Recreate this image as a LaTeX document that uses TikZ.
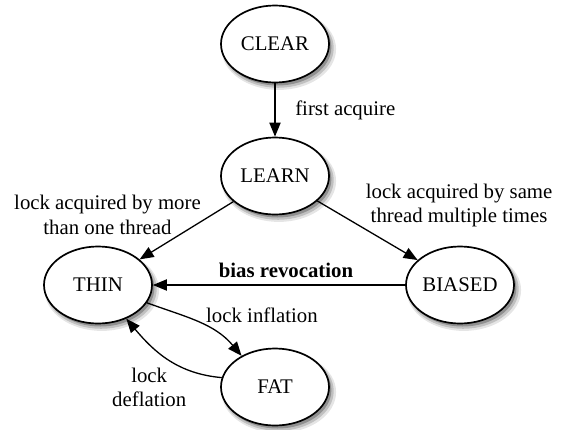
\documentclass[tikz,border=0pt]{standalone}
\usepackage{fontspec}
\setmainfont{Liberation Serif}
\usetikzlibrary{arrows.meta,shapes,shadows}

\begin{document}
\begin{tikzpicture}[x=1pt, y=1pt, font=\fontsize{10.4}{12.3}\selectfont]
\tikzstyle{state}=[ellipse, draw=black, line width=0.85pt, fill=white, node distance=66pt, minimum width=54pt, minimum height=38.5pt, inner sep=0pt,
  drop shadow={shadow xshift=1.8pt, shadow yshift=-2.4pt, shadow scale=1.06, opacity=0.1, fill=black},
  drop shadow={shadow xshift=1.5pt, shadow yshift=-2pt, shadow scale=1.03, opacity=0.16, fill=black},
  drop shadow={shadow xshift=1.2pt, shadow yshift=-1.5pt, opacity=0.25, fill=black}]
\tikzstyle{connect}=[-{Triangle[length=7pt, width=5.6pt]}, line width=0.65pt]
\tikzstyle{lbl}=[align=center]

  \useasboundingbox (0,0) rectangle (281,-214.5);

  \node[state] (clear)  at (137.5,-22)                                   {CLEAR};
  \node[state] (learn)  [below of =clear]                                {LEARN};
  \node[state] (thin)   [below of =learn, xshift=-88.5pt, yshift=11.5pt] {THIN};
  \node[state] (biased) [below of =learn, xshift=92.5pt,  yshift=11.5pt] {BIASED};
  \node[state] (fat)    [below of =learn, yshift=-39.5pt]                {FAT};

  \path (clear) edge [connect] node[midway, right, xshift=6.5pt] {first acquire} (learn);
  \path (learn) edge [connect] node[lbl, midway, xshift=-39.5pt, yshift=7.8pt] {lock acquired by more\\than one thread} (thin);
  \path (learn) edge [connect] node[lbl, midway, xshift=45.8pt, yshift=12.5pt] {lock acquired by same\\thread multiple times} (biased);
  \path (biased) edge [connect] node[midway, above, xshift=3.5pt] {\textbf{bias revocation}} (thin);
  \path (thin.-20) edge [connect, out=-20, in=130] node[midway, xshift=31.5pt, yshift=3.9pt] {lock inflation} (fat.137);
  \path (fat.170) edge [connect, out=175, in=-50] node[lbl, midway, xshift=-9.5pt, yshift=-14pt] {lock\\deflation} (thin.-50);

\end{tikzpicture}
\end{document}
